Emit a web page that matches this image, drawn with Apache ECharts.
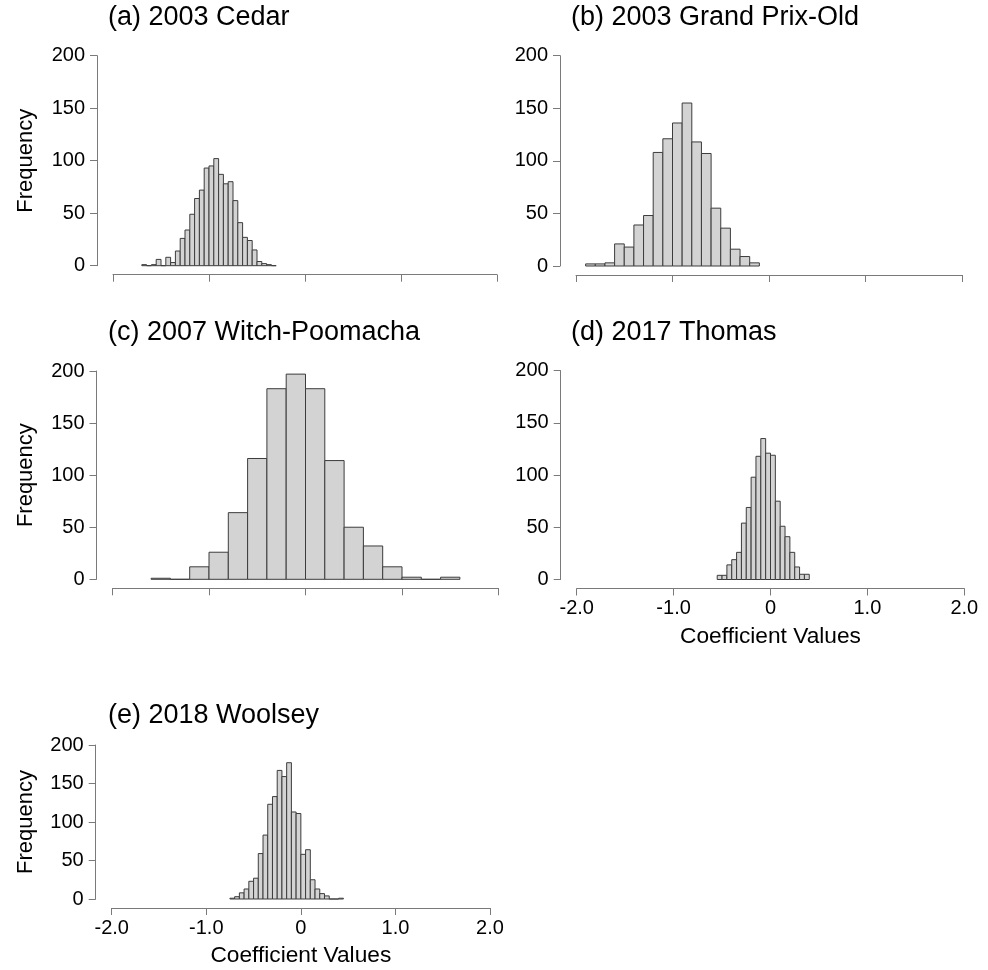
<!DOCTYPE html>
<html>
<head>
<meta charset="utf-8">
<script src="https://cdn.jsdelivr.net/npm/echarts@6/dist/echarts.min.js"></script>
<style>
  html, body { margin: 0; padding: 0; background: #ffffff; }
  #chart { width: 988px; height: 970px; }
</style>
</head>
<body>
<div id="chart"></div>
<script>
// ---------- data ----------
const panelTitles = ['(a) 2003 Cedar', '(b) 2003 Grand Prix-Old', '(c) 2007 Witch-Poomacha', '(d) 2017 Thomas', '(e) 2018 Woolsey'];

const binStartA = -1.70, binWidthA = 0.05;
const countsA = [1, 0, 1, 6, 0, 8, 3, 14, 26, 34, 49, 64, 72, 93, 95, 102, 87, 78, 80, 62, 41, 27, 24, 15, 4, 2, 1, 0];

const binStartB = -1.9, binWidthB = 0.1;
const countsB = [2, 2, 3, 21, 18, 39, 48, 108, 121, 136, 155, 118, 107, 55, 36, 16, 9, 3];

const binStartC = -1.6, binWidthC = 0.2;
const countsC = [1, 0, 12, 26, 64, 116, 183, 197, 183, 114, 50, 32, 12, 2, 0, 2];

const binStartD = -0.55, binWidthD = 0.05;
const countsD = [4, 4, 14, 19, 26, 54, 69, 98, 118, 135, 121, 119, 75, 51, 41, 26, 12, 5, 5];

const binStartE = -0.75, binWidthE = 0.05;
const countsE = [1, 3, 8, 13, 23, 27, 59, 83, 123, 133, 167, 159, 177, 113, 111, 58, 64, 25, 13, 7, 4, 0, 0, 1];

const xTicks = [-2, -1, 0, 1, 2];
const yTicks = [0, 50, 100, 150, 200];
const xAxisTitle = 'Coefficient Values';
const yAxisTitle = 'Frequency';

// ---------- layout ----------
const panels = [
  { starts: binStartA, width: binWidthA, counts: countsA, left: 113,   top: 55.7, w: 384,   h: 210,   xLabels: false, yName: true,  tx: 108, ty: 20 },
  { starts: binStartB, width: binWidthB, counts: countsB, left: 576,   top: 55.7, w: 386,   h: 210.3, xLabels: false, yName: false, tx: 571, ty: 20 },
  { starts: binStartC, width: binWidthC, counts: countsC, left: 112.5, top: 371,  w: 386,   h: 208.3, xLabels: false, yName: true,  tx: 108, ty: 335 },
  { starts: binStartD, width: binWidthD, counts: countsD, left: 576.7, top: 370.7,w: 387.6, h: 208.8, xLabels: true,  yName: false, tx: 571, ty: 335 },
  { starts: binStartE, width: binWidthE, counts: countsE, left: 111.7, top: 745,  w: 378.3, h: 154,   xLabels: true,  yName: true,  tx: 108, ty: 718 }
];

const FONT = '"Liberation Sans", Arial, sans-serif';
const axisColor = '#7a7a7a';

const grids = [], xAxes = [], yAxes = [], series = [], graphics = [];

panels.forEach((p, i) => {
  grids.push({ left: p.left, top: p.top, width: p.w, height: p.h, containLabel: false });
  xAxes.push({
    type: 'value', gridIndex: i, min: xTicks[0], max: xTicks[xTicks.length - 1], interval: 1,
    position: 'bottom', offset: 9,
    axisLine: { show: true, onZero: false, lineStyle: { color: axisColor, width: 1 } },
    axisTick: { show: true, length: 7, lineStyle: { color: axisColor } },
    splitLine: { show: false },
    axisLabel: {
      show: p.xLabels, margin: 10, color: '#000', fontSize: 20, fontFamily: FONT,
      formatter: v => (v === 0 ? '0' : v.toFixed(1))
    }
  });
  yAxes.push({
    type: 'value', gridIndex: i, min: yTicks[0], max: yTicks[yTicks.length - 1], interval: 50,
    position: 'left', offset: 16,
    axisLine: { show: true, onZero: false, lineStyle: { color: axisColor, width: 1 } },
    axisTick: { show: true, length: 7, lineStyle: { color: axisColor } },
    splitLine: { show: false },
    axisLabel: { show: true, margin: 12, color: '#000', fontSize: 20, fontFamily: FONT }
  });
  const data = p.counts.map((c, k) => [p.starts + k * p.width, p.starts + (k + 1) * p.width, c]);
  series.push({
    type: 'custom', xAxisIndex: i, yAxisIndex: i, clip: false,
    data: data,
    encode: { x: [0, 1], y: 2 },
    renderItem: (params, api) => {
      const a = api.coord([api.value(0), api.value(2)]);
      const b = api.coord([api.value(1), 0]);
      return {
        type: 'rect',
        shape: { x: a[0], y: a[1], width: b[0] - a[0], height: b[1] - a[1] },
        style: { fill: '#d3d3d3', stroke: '#3c3c3c', lineWidth: 1 }
      };
    }
  });
  graphics.push({
    type: 'text', left: p.tx, top: p.ty - 16,
    style: { text: panelTitles[i], font: '27px ' + FONT, fill: '#000' }
  });
  if (p.yName) {
    graphics.push({
      type: 'text', x: 26, y: p.top + p.h / 2, rotation: Math.PI / 2,
      style: { text: yAxisTitle, font: '22px ' + FONT, fill: '#000', align: 'center', verticalAlign: 'middle' }
    });
  }
  if (p.xLabels) {
    graphics.push({
      type: 'text', x: p.left + p.w / 2, y: p.top + p.h + 57,
      style: { text: xAxisTitle, font: '22.7px ' + FONT, fill: '#000', align: 'center', verticalAlign: 'middle' }
    });
  }
});

const chart = echarts.init(document.getElementById('chart'), null, { renderer: 'canvas' });
chart.setOption({
  animation: false,
  backgroundColor: '#ffffff',
  grid: grids,
  xAxis: xAxes,
  yAxis: yAxes,
  series: series,
  graphic: graphics
});
</script>
</body>
</html>
